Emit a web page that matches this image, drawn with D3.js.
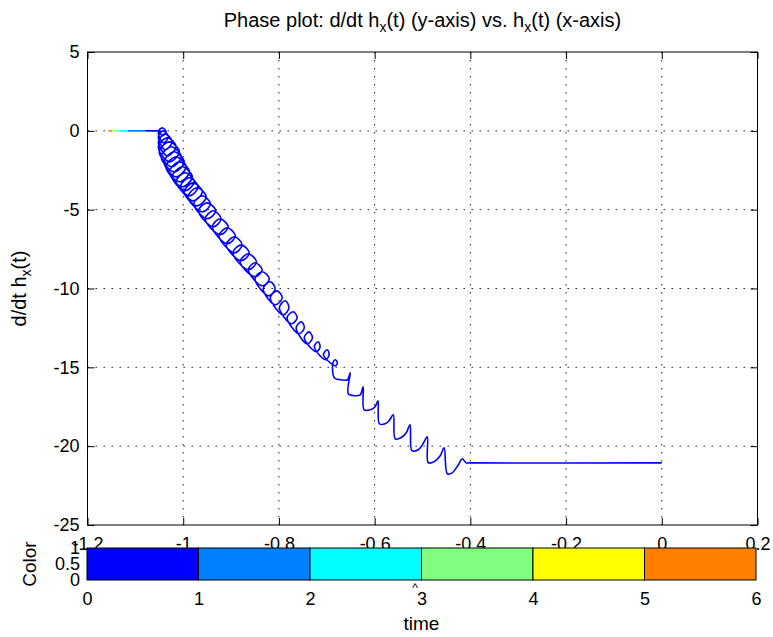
<!DOCTYPE html>
<html>
<head>
<meta charset="utf-8">
<script src="https://cdn.jsdelivr.net/npm/d3@7"></script>
<style>
  body { margin: 0; background: #fff; }
  text { font-family: "Liberation Sans", Arial, sans-serif; fill: #000; }
</style>
</head>
<body>
<svg width="773" height="637"></svg>
<script>
var hxTicks = [-1.2, -1, -0.8, -0.6, -0.4, -0.2, 0, 0.2];
var dhxTicks = [5, 0, -5, -10, -15, -20, -25];
var timeTicks = [0, 1, 2, 3, 4, 5, 6];
var colorTicks = [0, 0.5, 1];
var timeColors = ["#0000ff", "#0080ff", "#00ffff", "#80ff80", "#ffff00", "#ff8000"];

// start of the run along dh/dt = 0 : [hx from, hx to, time bin]
var startSegs = [
  [-1.156, -1.149, 5], [-1.149, -1.144, 4], [-1.144, -1.132, 3],
  [-1.132, -1.115, 2], [-1.115, -1.079, 1], [-1.079, -1.050, 0]
];

// blue part of the trajectory [hx, d/dt hx]
var traj = [
  [-1.050, 0],
  [-1.044, -0.32], [-1.036, -0.06], [-1.044, 0.19], [-1.052, -0.06],
  [-1.042, -0.76], [-1.031, -0.38], [-1.042, 0.00], [-1.052, -0.38],
  [-1.038, -1.20], [-1.023, -0.70], [-1.038, -0.19], [-1.052, -0.70],
  [-1.033, -1.59], [-1.015, -1.01], [-1.033, -0.44], [-1.052, -1.01],
  [-1.029, -1.97], [-1.008, -1.33], [-1.029, -0.70], [-1.050, -1.33],
  [-1.025, -2.28], [-1.004, -1.65], [-1.025, -1.01], [-1.046, -1.65],
  [-1.019, -2.60], [-0.998, -1.97], [-1.019, -1.33], [-1.040, -1.97],
  [-1.015, -2.92], [-0.994, -2.28], [-1.015, -1.65], [-1.036, -2.28],
  [-1.008, -3.23], [-0.987, -2.60], [-1.008, -1.97], [-1.029, -2.60],
  [-1.002, -3.55], [-0.981, -2.92], [-1.002, -2.28], [-1.023, -2.92],
  [-0.996, -3.80], [-0.977, -3.23], [-0.996, -2.66], [-1.015, -3.23],
  [-0.987, -4.12], [-0.969, -3.55], [-0.987, -2.98], [-1.006, -3.55],
  [-0.979, -4.44], [-0.960, -3.87], [-0.979, -3.30], [-0.998, -3.87],
  [-0.971, -4.76], [-0.952, -4.19], [-0.971, -3.61], [-0.990, -4.19],
  [-0.960, -5.14], [-0.943, -4.63], [-0.960, -4.12], [-0.978, -4.63],
  [-0.950, -5.58], [-0.932, -5.07], [-0.950, -4.57], [-0.968, -5.07],
  [-0.937, -6.09], [-0.921, -5.58], [-0.937, -5.07], [-0.954, -5.58],
  [-0.923, -6.59], [-0.906, -6.09], [-0.923, -5.58], [-0.939, -6.09],
  [-0.908, -7.17], [-0.891, -6.66], [-0.908, -6.15], [-0.925, -6.66],
  [-0.893, -7.74], [-0.877, -7.23], [-0.893, -6.72], [-0.910, -7.23],
  [-0.879, -8.24], [-0.862, -7.74], [-0.879, -7.23], [-0.896, -7.74],
  [-0.864, -8.81], [-0.847, -8.31], [-0.864, -7.80], [-0.881, -8.31],
  [-0.850, -9.26], [-0.835, -8.81], [-0.850, -8.37], [-0.864, -8.81],
  [-0.835, -9.83], [-0.820, -9.38], [-0.835, -8.94], [-0.850, -9.38],
  [-0.822, -10.46], [-0.808, -10.02], [-0.818, -9.57], [-0.833, -10.02],
  [-0.808, -11.03], [-0.793, -10.59], [-0.804, -10.15], [-0.818, -10.59],
  [-0.791, -11.67], [-0.779, -11.22], [-0.787, -10.78], [-0.799, -11.22],
  [-0.774, -12.24], [-0.762, -11.86], [-0.770, -11.48], [-0.783, -11.86],
  [-0.758, -12.87], [-0.747, -12.49], [-0.753, -12.11], [-0.764, -12.49],
  [-0.741, -13.51], [-0.730, -13.13], [-0.737, -12.75], [-0.747, -13.13],
  [-0.722, -14.01], [-0.714, -13.70], [-0.718, -13.38], [-0.726, -13.70],
  [-0.703, -14.52], [-0.695, -14.20], [-0.699, -13.89], [-0.707, -14.20],
  [-0.682, -14.90], [-0.678, -14.71], [-0.682, -14.52], [-0.687, -14.71],
  [-0.684, -15.67], [-0.670, -15.79], [-0.657, -15.79], [-0.651, -15.35],
  [-0.655, -16.68], [-0.641, -16.80], [-0.630, -16.74], [-0.624, -16.23],
  [-0.622, -17.69], [-0.609, -17.69], [-0.599, -17.50], [-0.593, -17.12],
  [-0.590, -18.58], [-0.578, -18.58], [-0.570, -18.39], [-0.561, -18.01],
  [-0.557, -19.53], [-0.545, -19.47], [-0.534, -19.15], [-0.526, -18.64],
  [-0.522, -20.29], [-0.509, -20.23], [-0.499, -19.85], [-0.490, -19.40],
  [-0.488, -21.05], [-0.476, -20.99], [-0.463, -20.61], [-0.455, -20.10],
  [-0.448, -21.75], [-0.438, -21.69], [-0.425, -21.18], [-0.417, -20.80],
  [-0.409, -21.05], [-0.400, -21.06], [0, -21.06]
];

var svg = d3.select("svg");
var font = '"Liberation Sans", Arial, sans-serif';

var x = d3.scaleLinear().domain([-1.2, 0.2]).range([87.5, 757.5]);
var y = d3.scaleLinear().domain([-25, 5]).range([525, 52]);

var fmt = function(d) { return String(d); };

// grid
var grid = svg.append("g").attr("stroke", "#222").attr("stroke-width", 1)
  .attr("stroke-dasharray", "1.5,6.5");
grid.selectAll(".gx").data(hxTicks.slice(1, -1)).enter().append("line")
  .attr("x1", d => x(d)).attr("x2", d => x(d))
  .attr("y1", y(5)).attr("y2", y(-25));
grid.selectAll(".gy").data(dhxTicks.slice(1, -1)).enter().append("line")
  .attr("y1", d => y(d)).attr("y2", d => y(d))
  .attr("x1", x(-1.2)).attr("x2", x(0.2));

// axes, ticks inside like the original
function styleAxis(g) {
  g.attr("font-size", 18).attr("font-family", font);
  g.select(".domain").remove();
  g.selectAll(".tick line").attr("stroke", "#000");
}
svg.append("g").attr("transform", "translate(0," + y(-25) + ")")
  .call(d3.axisBottom(x).tickValues(hxTicks).tickFormat(fmt).tickSizeInner(-7).tickSizeOuter(0).tickPadding(12))
  .call(styleAxis);
svg.append("g").attr("transform", "translate(0," + y(5) + ")")
  .call(d3.axisTop(x).tickValues(hxTicks).tickFormat("").tickSizeInner(-7).tickSizeOuter(0))
  .call(styleAxis);
svg.append("g").attr("transform", "translate(" + x(-1.2) + ",0)")
  .call(d3.axisLeft(y).tickValues(dhxTicks).tickFormat(fmt).tickSizeInner(-7).tickSizeOuter(0).tickPadding(8))
  .call(styleAxis);
svg.append("g").attr("transform", "translate(" + x(0.2) + ",0)")
  .call(d3.axisRight(y).tickValues(dhxTicks).tickFormat("").tickSizeInner(-7).tickSizeOuter(0))
  .call(styleAxis);

svg.append("rect")
  .attr("x", x(-1.2)).attr("y", y(5))
  .attr("width", x(0.2) - x(-1.2)).attr("height", y(-25) - y(5))
  .attr("fill", "none").attr("stroke", "#000").attr("stroke-width", 1);

// trajectory
var line = d3.line()
  .x(d => x(d[0])).y(d => y(d[1]))
  .curve(d3.curveCatmullRom.alpha(0.5));

svg.append("g").selectAll("line").data(startSegs).enter().append("line")
  .attr("x1", d => x(d[0])).attr("x2", d => x(d[1]))
  .attr("y1", y(0)).attr("y2", y(0))
  .attr("stroke", d => timeColors[d[2]]).attr("stroke-width", 1.7);

svg.append("path").datum(traj)
  .attr("d", line)
  .attr("fill", "none")
  .attr("stroke", "#0000ff")
  .attr("stroke-width", 1.6)
  .attr("stroke-linejoin", "round");

// title and y label
var title = svg.append("text")
  .attr("x", (x(-1.2) + x(0.2)) / 2).attr("y", 27)
  .attr("text-anchor", "middle").attr("font-size", 20);
title.append("tspan").text("Phase plot: d/dt h");
title.append("tspan").attr("font-size", 14).attr("dy", 5).text("x");
title.append("tspan").attr("dy", -5).text("(t) (y-axis) vs. h");
title.append("tspan").attr("font-size", 14).attr("dy", 5).text("x");
title.append("tspan").attr("dy", -5).text("(t) (x-axis)");

var ylab = svg.append("text")
  .attr("transform", "translate(26," + ((y(5) + y(-25)) / 2) + ") rotate(-90)")
  .attr("text-anchor", "middle").attr("font-size", 20);
ylab.append("tspan").text("d/dt h");
ylab.append("tspan").attr("font-size", 14).attr("dy", 5).text("x");
ylab.append("tspan").attr("dy", -5).text("(t)");

// colour bar for time
var cx = d3.scaleLinear().domain([0, 6]).range([87, 756]);
var cy = d3.scaleLinear().domain([0, 1]).range([580, 548]);

svg.append("g").selectAll("rect").data(timeColors).enter().append("rect")
  .attr("x", (d, i) => cx(i))
  .attr("width", (d, i) => cx(i + 1) - cx(i))
  .attr("y", cy(1)).attr("height", cy(0) - cy(1))
  .attr("fill", d => d)
  .attr("stroke", "#000").attr("stroke-width", 1);

svg.append("g").attr("transform", "translate(0," + cy(0) + ")")
  .call(d3.axisBottom(cx).tickValues(timeTicks).tickFormat(fmt).tickSize(0).tickPadding(12))
  .call(styleAxis);
svg.append("g").attr("transform", "translate(" + cx(0) + ",0)")
  .call(d3.axisLeft(cy).tickValues(colorTicks).tickFormat(fmt).tickSize(0).tickPadding(7))
  .call(styleAxis);

svg.append("text")
  .attr("x", (cx(0) + cx(6)) / 2).attr("y", 630)
  .attr("text-anchor", "middle").attr("font-size", 19)
  .text("time");
svg.append("text")
  .attr("transform", "translate(36," + ((cy(0) + cy(1)) / 2) + ") rotate(-90)")
  .attr("text-anchor", "middle").attr("font-size", 19)
  .text("Color");
svg.append("text")
  .attr("x", 415).attr("y", 592)
  .attr("text-anchor", "middle").attr("font-size", 12)
  .text("^");
</script>
</body>
</html>
